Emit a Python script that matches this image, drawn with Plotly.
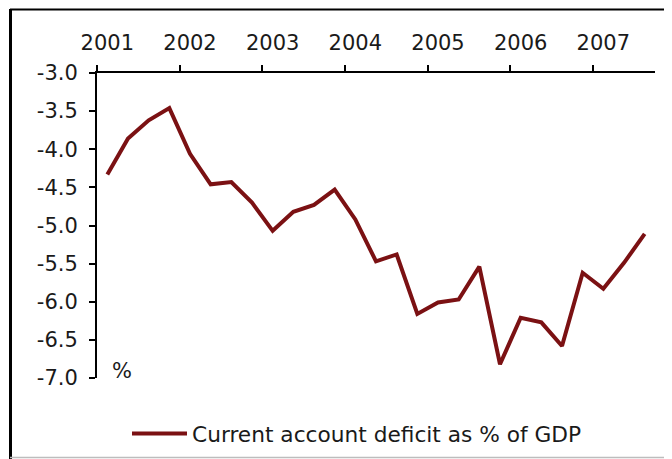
import plotly.graph_objects as go

# Quarterly categories 2001 Q1 .. 2007 Q3
years = ["2001", "2002", "2003", "2004", "2005", "2006", "2007"]
quarters = [f"{y} Q{q}" for y in years for q in (1, 2, 3, 4)][:27]

deficit = [-4.33, -3.86, -3.62, -3.46, -4.06, -4.46, -4.43, -4.70, -5.07, -4.82,
           -4.73, -4.53, -4.92, -5.47, -5.38, -6.16, -6.01, -5.97, -5.54, -6.82,
           -6.21, -6.27, -6.58, -5.62, -5.83, -5.49, -5.11]

y_ticks = [-3.0, -3.5, -4.0, -4.5, -5.0, -5.5, -6.0, -6.5, -7.0]
y_tick_labels = ["-3.0", "-3.5", "-4.0", "-4.5", "-5.0", "-5.5", "-6.0", "-6.5", "-7.0"]

series_name = "Current account deficit as % of GDP"

x_idx = list(range(len(quarters)))
year_pos = [i for i, q in enumerate(quarters) if q.endswith("Q1")]
year_bounds = [i - 0.5 for i in year_pos]

FONT = "DejaVu Sans, Verdana, sans-serif"
TXT = "#1a1a1a"

fig = go.Figure()
fig.add_trace(go.Scatter(
    x=x_idx, y=deficit, mode="lines", name=series_name,
    line=dict(color="#7B1113", width=4),
    customdata=quarters,
    hovertemplate="%{customdata}: %{y:.2f}%<extra></extra>",
))

W, H = 672, 459
L, R, T, B = 89, 25, 65, 89
pw, ph = W - L - R, H - T - B

def px_x(px):
    return (px - L) / pw

def px_y(py):
    return (H - B - py) / ph

fig.update_layout(
    width=W, height=H,
    margin=dict(l=L, r=R, t=T, b=B, pad=0),
    paper_bgcolor="white", plot_bgcolor="white",
    font=dict(family=FONT, size=21, color=TXT),
    showlegend=True,
    legend=dict(
        orientation="h", xref="container", yref="container",
        x=119 / W, y=1 - 426 / H, xanchor="left", yanchor="middle",
        font=dict(size=21.7, color=TXT), itemwidth=55,
        bgcolor="rgba(0,0,0,0)",
    ),
    xaxis=dict(
        side="top", range=[-0.5, len(quarters) - 0.5],
        tickmode="array", tickvals=year_pos, ticktext=years,
        ticks="outside", ticklen=13, tickcolor="rgba(0,0,0,0)",
        showline=True, linecolor="black", linewidth=2,
        showgrid=False, zeroline=False,
        minor=dict(tickmode="array", tickvals=year_bounds, ticks="outside",
                   ticklen=6, tickwidth=2, tickcolor="black", showgrid=False),
        tickfont=dict(size=21, color=TXT),
    ),
    yaxis=dict(
        range=[-7.0, -3.0], tickmode="array",
        tickvals=y_ticks, ticktext=y_tick_labels,
        ticks="outside", ticklen=6, tickwidth=2, tickcolor="black",
        showline=True, linecolor="black", linewidth=2,
        showgrid=False, zeroline=False,
        tickfont=dict(size=21, color=TXT),
        ticklabelstandoff=7,
    ),
    annotations=[dict(
        text="%", xref="paper", yref="paper", x=px_x(114), y=px_y(363),
        xanchor="center", yanchor="middle", showarrow=False,
        font=dict(size=21, color=TXT),
    )],
    shapes=[
        dict(type="line", xref="paper", yref="paper", x0=px_x(2), x1=px_x(680),
             y0=px_y(1.5), y1=px_y(1.5), line=dict(color="black", width=2)),
        dict(type="line", xref="paper", yref="paper", x0=px_x(2.5), x1=px_x(2.5),
             y0=px_y(1), y1=px_y(459), line=dict(color="black", width=3)),
        dict(type="line", xref="paper", yref="paper", x0=px_x(2), x1=px_x(680),
             y0=px_y(449.5), y1=px_y(449.5), line=dict(color="#BDBDBD", width=1.5)),
    ],
)

fig.write_html("out.html")
